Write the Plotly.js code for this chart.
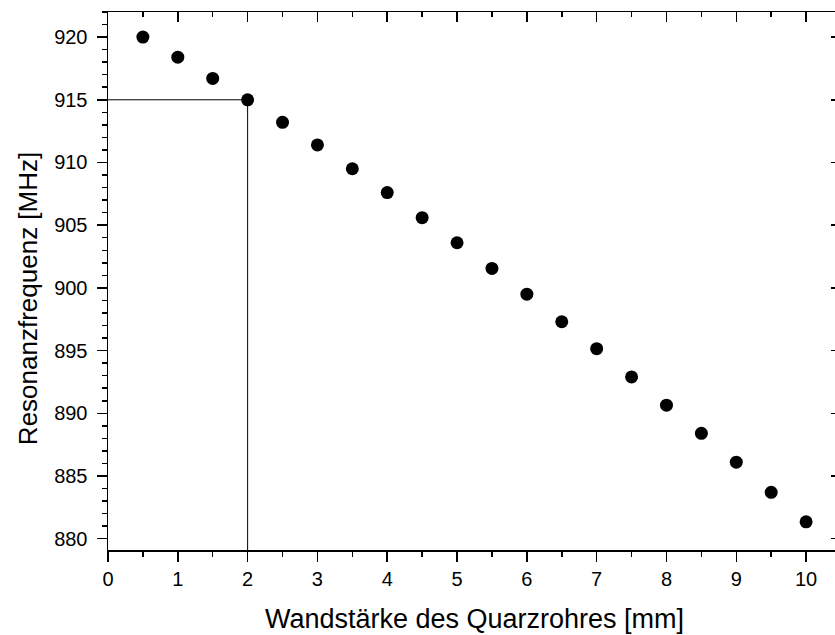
<!DOCTYPE html>
<html>
<head>
<meta charset="utf-8">
<script src="https://cdn.plot.ly/plotly-3.0.1.min.js"></script>
<style>
html, body { margin: 0; padding: 0; overflow: hidden; background: #fff; width: 835px; height: 635px; }
#chart { width: 850px; height: 635px; }
</style>
</head>
<body>
<div id="chart"></div>
<script>
// Data
const wallThickness = [0.5, 1.0, 1.5, 2.0, 2.5, 3.0, 3.5, 4.0, 4.5, 5.0, 5.5, 6.0, 6.5, 7.0, 7.5, 8.0, 8.5, 9.0, 9.5, 10.0];
const resonanceFreq = [920.0, 918.4, 916.7, 915.0, 913.2, 911.4, 909.5, 907.6, 905.6, 903.6, 901.55, 899.5, 897.3, 895.15, 892.9, 890.65, 888.4, 886.1, 883.7, 881.35];
const xRange = [0, 10.5];
const yRange = [879.1, 922];
const markIndex = 3; // the point at 2 mm / 915 MHz marked with guide lines
const xTitle = 'Wandstärke des Quarzrohres [mm]';
const yTitle = 'Resonanzfrequenz [MHz]';

const font = 'Arial, "Liberation Sans", sans-serif';

const guide = {
  x: [xRange[0], wallThickness[markIndex], wallThickness[markIndex]],
  y: [resonanceFreq[markIndex], resonanceFreq[markIndex], yRange[0]],
  mode: 'lines',
  line: { color: '#000', width: 1 },
  hoverinfo: 'skip',
  showlegend: false
};

const points = {
  x: wallThickness,
  y: resonanceFreq,
  mode: 'markers',
  marker: { color: '#000', size: 13 },
  showlegend: false,
  cliponaxis: false
};

const axisCommon = {
  showgrid: false,
  zeroline: false,
  showline: true,
  linecolor: '#000',
  linewidth: 1.5,
  tickcolor: '#000',
  tickwidth: 1.5,
  ticklen: 10,
  tickfont: { family: font, size: 20, color: '#000' }
};

const layout = {
  width: 850,
  height: 635,
  margin: { l: 108, r: 9, t: 12, b: 85 },
  paper_bgcolor: '#fff',
  plot_bgcolor: '#fff',
  font: { family: font, color: '#000' },
  xaxis: Object.assign({}, axisCommon, {
    range: xRange,
    dtick: 1,
    tick0: 0,
    ticks: 'outside',
    minor: { dtick: 0.5, tick0: 0, ticks: 'outside', ticklen: 5, tickcolor: '#000', tickwidth: 1.5 },
    title: { text: xTitle, font: { family: font, size: 27, color: '#000' }, standoff: 20 }
  }),
  xaxis2: Object.assign({}, axisCommon, {
    range: xRange,
    overlaying: 'x',
    side: 'top',
    anchor: 'y',
    dtick: 1,
    tick0: 0,
    ticks: 'inside',
    showticklabels: false,
    minor: { dtick: 0.5, tick0: 0, ticks: 'inside', ticklen: 5, tickcolor: '#000', tickwidth: 1.5 }
  }),
  yaxis: Object.assign({}, axisCommon, {
    range: yRange,
    dtick: 5,
    tick0: 880,
    ticks: 'outside',
    ticklabelstandoff: 5,
    minor: { dtick: 1, tick0: 880, ticks: 'outside', ticklen: 5, tickcolor: '#000', tickwidth: 1.5 }
  }),
  yaxis2: Object.assign({}, axisCommon, {
    range: yRange,
    overlaying: 'y',
    side: 'right',
    anchor: 'x',
    dtick: 5,
    tick0: 880,
    ticks: 'inside',
    showticklabels: false,
    minor: { dtick: 1, tick0: 880, ticks: 'inside', ticklen: 5, tickcolor: '#000', tickwidth: 1.5 }
  }),
  annotations: [{
    text: yTitle,
    xref: 'paper', yref: 'paper',
    x: -0.109, y: 0.4665,
    xanchor: 'center', yanchor: 'middle',
    textangle: -90,
    showarrow: false,
    font: { family: font, size: 26, color: '#000' }
  }]
};

const helper = { x: xRange, y: yRange, xaxis: 'x2', yaxis: 'y2', mode: 'markers', marker: { opacity: 0 }, hoverinfo: 'skip', showlegend: false };

Plotly.newPlot('chart', [guide, points, helper], layout, { displayModeBar: false, staticPlot: true });
</script>
</body>
</html>
